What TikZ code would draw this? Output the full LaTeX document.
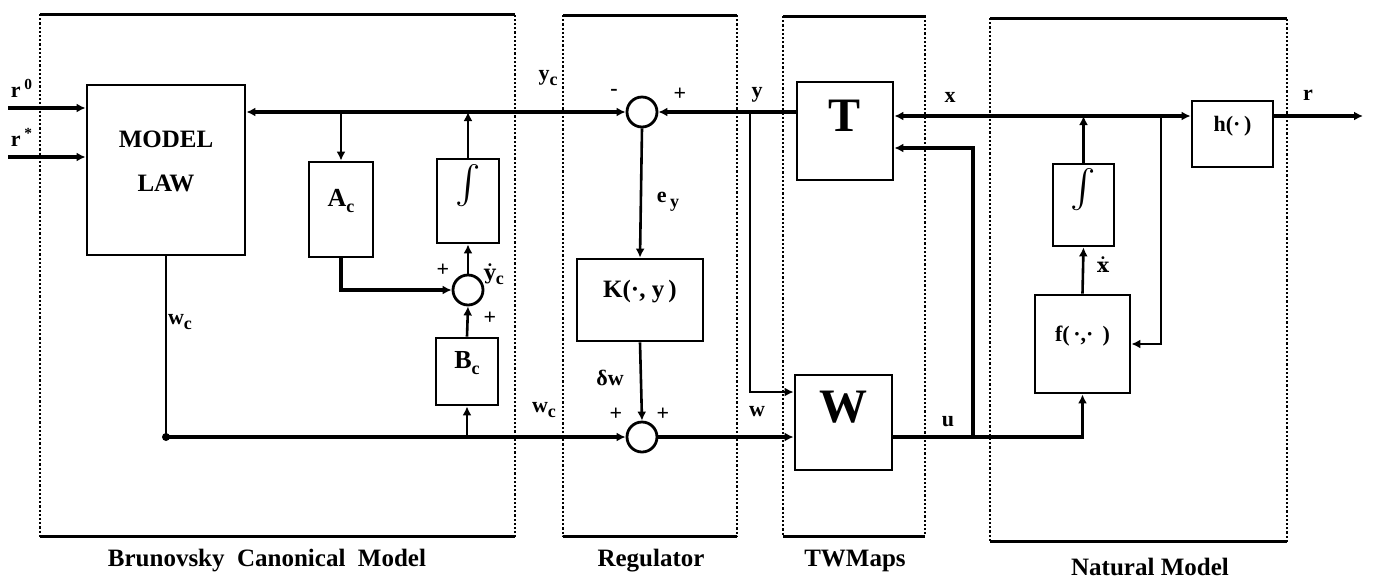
\documentclass[tikz,border=0pt]{standalone}
\usepackage{fontspec}
\setmainfont{Liberation Serif}
\newfontfamily\dvs{DejaVu Serif}
\usetikzlibrary{arrows.meta,fit,calc}
\newcommand\sbs[1]{\raisebox{-0.5ex}{\fontsize{9}{9}\selectfont #1}}
\newcommand\intsym{\scalebox{1.9}{$\int$}}
\begin{document}
\begin{tikzpicture}[x=0.5pt,y=-0.5pt,
  every node/.style={font=\bfseries\fontsize{11}{12}\selectfont},
  blk/.style={draw, line width=1.4pt, inner sep=0pt},
  sumc/.style={draw, circle, line width=1.4pt, minimum size=15pt, inner sep=0pt},
  sig/.style={line width=1.8pt, -{Latex[length=4.5pt,width=4.5pt]}},
  sigt/.style={line width=1.3pt, -{Latex[length=4.5pt,width=4.5pt]}},
  wire/.style={line width=1.8pt},
  wiret/.style={line width=1.3pt},
  region/.style={densely dotted, line width=1.1pt},
  regedge/.style={line width=1.5pt},
  lbl/.style={inner sep=0pt},
  captxt/.style={font=\bfseries\fontsize{12.5}{14}\selectfont, inner sep=0pt},
]
\useasboundingbox (0,0) rectangle (1373,585);

% regions
\draw[region] (40,14) rectangle (515,536);
\draw[regedge] (40,14) -- (515,14) (40,536) -- (515,536);
\draw[region] (563,15) rectangle (737,536);
\draw[regedge] (563,15) -- (737,15) (563,536) -- (737,536);
\draw[region] (783,16) rectangle (925,536);
\draw[regedge] (783,16) -- (925,16) (783,536) -- (925,536);
\draw[region] (990,18) rectangle (1287,541);
\draw[regedge] (990,18) -- (1287,18) (990,541) -- (1287,541);

\node[captxt] (capB) at (267,561) {Brunovsky\ \ Canonical\ \ Model};
\node[captxt] (capR) at (651,561) {Regulator};
\node[captxt] (capT) at (855,561) {TWMaps};
\node[captxt] (capN) at (1150,567) {Natural Model};

% blocks
\node[blk, fit={(87,85) (245,255)}, align=center, font=\bfseries\fontsize{12.5}{22}\selectfont] (ML) {MODEL\\LAW};
\node[blk, fit={(309,162) (373,257)}, font=\bfseries\fontsize{13}{14}\selectfont] (Ac) {A\sbs{c}};
\node[blk, fit={(437,159) (499,243)}] (I1) {\intsym};
\node[blk, fit={(436,338) (498,405)}, font=\bfseries\fontsize{13}{14}\selectfont] (Bc) {B\sbs{c}};
\node[sumc] (sB) at (468,290) {};

\node[sumc] (sT) at (642,112) {};
\node[blk, fit={(577,259) (703,341)}, font=\bfseries\fontsize{12.5}{14}\selectfont] (K) {K(·,\ y\,)};
\node[sumc] (sL) at (642,437) {};

\node[blk, fit={(797,82) (893,180)}, font=\bfseries\fontsize{24}{24}\selectfont] (T) {T};
\node[blk, fit={(795,375) (892,470)}, font=\bfseries\fontsize{24}{24}\selectfont] (W) {W};

\node[blk, fit={(1192,101) (1273,167)}, font=\bfseries\fontsize{11}{12}\selectfont] (h) {h(·\,)};
\node[blk, fit={(1053,164) (1114,246)}] (I2) {\intsym};
\node[blk, fit={(1035,295) (1130,393)}, font=\bfseries\fontsize{11}{12}\selectfont] (f) {f(\,·,·\ \,)};

% coordinates
\coordinate (r0) at (8,108);
\coordinate (rs) at (8,157);
\coordinate (jI) at (I1.north |- sT.west);
\coordinate (jA) at (Ac.north |- sT.west);
\coordinate (jw) at (ML.south |- sL.west);
\coordinate (jB) at (Bc.south |- sL.west);
\coordinate (jy) at (750,112);
\coordinate (wy) at (750,392);
\coordinate (jx) at (I2.north |- 0,116);
\coordinate (jf) at (1161,116);
\coordinate (rout) at (1363,116);
\coordinate (ju) at (973,437);
\coordinate (uT) at (973,148);

% Brunovsky
\draw[sig] (r0) -- (r0 -| ML.west);
\draw[sig] (rs) -- (rs -| ML.west);
\draw[sigt] (I1.north) -- (jI);
\draw[sig] (jI) -- (jI -| ML.east);
\draw[sig] (jI) -- (sT.west);
\draw[sigt] (jA) -- (Ac.north);
\draw[sig] (Ac.south) |- (sB.west);
\draw[sigt] (sB.north) -- (I1.south);
\draw[sigt] (Bc.north) -- (sB.south);
\draw[wiret] (ML.south) -- (jw);
\draw[sig] (jw) -- (sL.west);
\draw[sigt] (jB) -- (Bc.south);
\fill (jw) circle[radius=2pt];

% Regulator
\draw[sigt] (sT.south) -- (K.north);
\draw[sigt] (K.south) -- (sL.north);
\draw[sig] (T.west |- sT.east) -- (sT.east);
\draw[sigt] (jy) -- (wy) -- (wy -| W.west);
\draw[sig] (sL.east) -- (sL.east -| W.west);

% Natural
\draw[sigt] (I2.north) -- (jx);
\draw[sig] (jx) -- (jx -| T.east);
\draw[sig] (jx) -- (jx -| h.west);
\draw[sig] (jx -| h.east) -- (rout);
\draw[sigt] (jf) |- (f.east);
\draw[sigt] (f.north) -- (I2.south);
\draw[wire] (sL.east -| W.east) -- (ju);
\draw[sig] (ju) -| (f.south);
\draw[sig] (ju) -- (uT) -- (uT -| T.east);

% labels
\node[lbl] (lr0) at (22,88) {r\,\textsuperscript{0}};
\node[lbl] (lrs) at (22,137) {r\,\textsuperscript{*}};
\node[lbl] (lyc) at (548,78) {y\sbs{c}};
\node[lbl] (lm) at (614,92) {-};
\node[lbl] (lp1) at (680,94) {+};
\node[lbl] (ly) at (757,95) {y};
\node[lbl] (ley) at (668,202) {e\,\sbs{y}};
\node[lbl] (ldw) at (610,378) {δw};
\node[lbl] (lp2) at (616,414) {+};
\node[lbl] (lp3) at (663,414) {+};
\node[lbl] (lwc2) at (544,410) {w\sbs{c}};
\node[lbl] (lw) at (757,412) {w};
\node[lbl] (lwc1) at (180,322) {w\sbs{c}};
\node[lbl] (lp4) at (443,270) {+};
\node[lbl] (lyd) at (494,274) {{\dvs\fontsize{10}{12}\selectfont ẏ}\sbs{c}};
\node[lbl] (lp5) at (490,318) {+};
\node[lbl] (lx) at (950,97) {x};
\node[lbl] (lu) at (948,422) {u};
\node[lbl] (lr) at (1308,95) {r};
\node[lbl] (lxd) at (1103,265) {{\dvs\fontsize{10}{12}\selectfont ẋ}};
\end{tikzpicture}
\end{document}
